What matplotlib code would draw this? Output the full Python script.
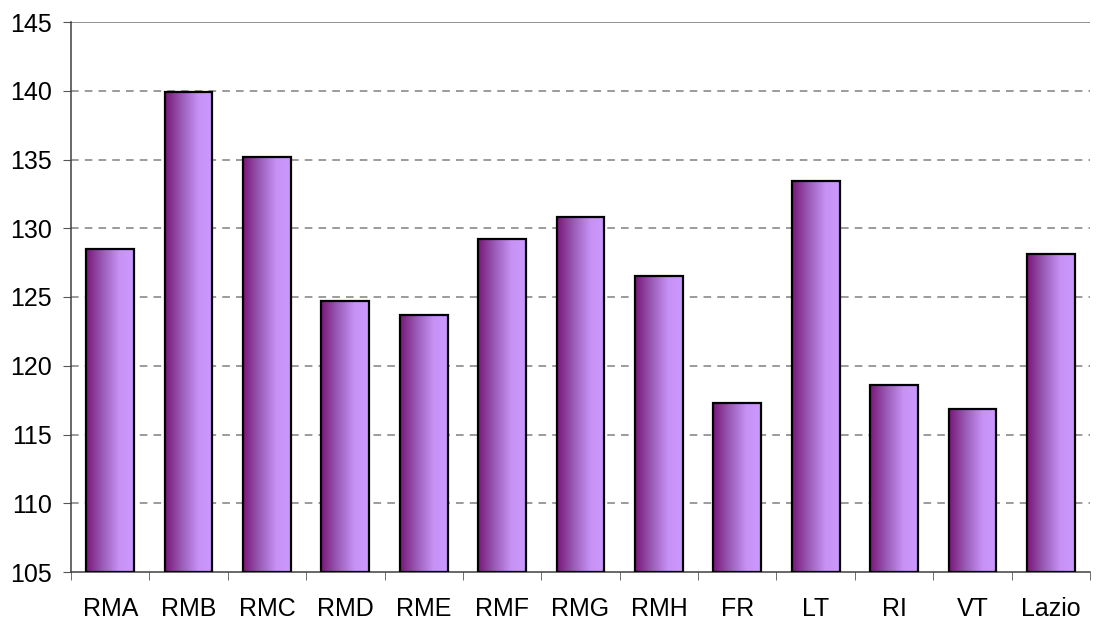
import numpy as np
import matplotlib.pyplot as plt
from matplotlib.colors import LinearSegmentedColormap

plt.rcParams['font.family'] = ['Liberation Sans', 'DejaVu Sans']

categories = ["RMA", "RMB", "RMC", "RMD", "RME", "RMF", "RMG", "RMH",
              "FR", "LT", "RI", "VT", "Lazio"]
values = [128.5, 139.9, 135.2, 124.7, 123.7, 129.2, 130.8, 126.5,
          117.3, 133.4, 118.6, 116.85, 128.1]
yticks = [105, 110, 115, 120, 125, 130, 135, 140, 145]

ymin, ymax = 105, 145
width = 0.61

cmap = LinearSegmentedColormap.from_list(
    "purple", [(0.0, "#781878"), (0.35, "#9a5cb8"), (0.7, "#c792f5"), (1.0, "#cc99ff")])
grad = np.linspace(0, 1, 256).reshape(1, -1)

fig = plt.figure(figsize=(10.97, 6.21), dpi=100)
ax = fig.add_axes([71 / 1097, 1 - 572 / 621, 1019 / 1097, 550 / 621])

x = np.arange(len(categories))
for xi, v in zip(x, values):
    ax.imshow(grad, cmap=cmap, extent=[xi - width / 2, xi + width / 2, ymin, v],
              aspect='auto', zorder=2, interpolation='bilinear')
ax.bar(x, [v - ymin for v in values], bottom=ymin, width=width,
       facecolor='none', edgecolor='black', linewidth=1.6, zorder=3)

ax.set_xlim(-0.5, len(categories) - 0.5)
ax.set_ylim(ymin, ymax)
ax.set_yticks(yticks)
ax.set_xticks(x)
ax.set_xticklabels(categories)
ax.set_xticks(np.arange(len(categories) + 1) - 0.5, minor=True)
ax.tick_params(axis='x', which='major', length=0, pad=18, labelsize=18)
ax.tick_params(axis='x', which='minor', length=6, color='#555555', direction='out')
ax.tick_params(axis='y', length=6, color='#555555', labelsize=18, pad=8)

for t in yticks[1:-1]:
    ax.axhline(t, color='#808080', linestyle=(0, (5, 4)), linewidth=1.1, zorder=1)
ax.axhline(ymax, color='#808080', linewidth=1.2, zorder=1)

ax.spines['right'].set_visible(False)
ax.spines['top'].set_visible(False)
ax.spines['left'].set_color('#404040')
ax.spines['bottom'].set_color('#404040')
ax.spines['left'].set_linewidth(1.1)
ax.spines['bottom'].set_linewidth(1.1)

fig.savefig("out.png", dpi=100)
